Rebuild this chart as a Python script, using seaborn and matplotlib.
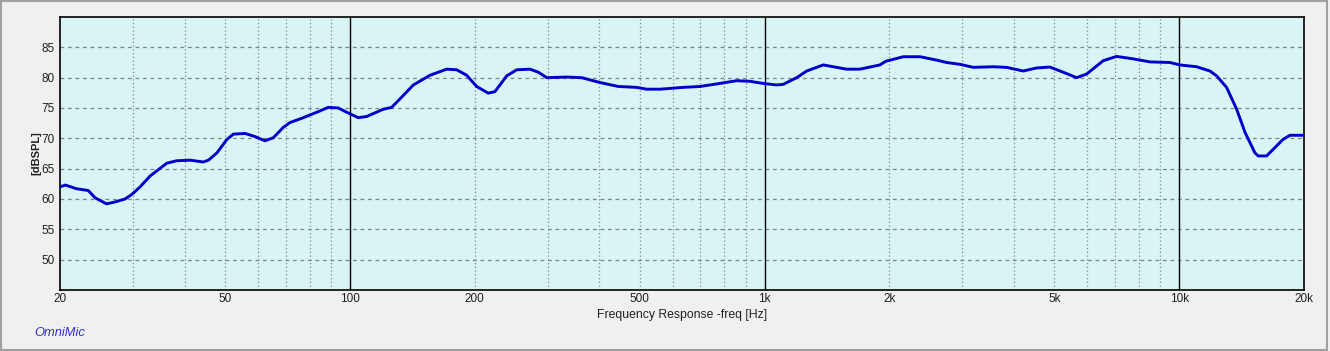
import numpy as np
import pandas as pd
import matplotlib
matplotlib.use("Agg")
import matplotlib.pyplot as plt
import matplotlib.ticker as mticker
from matplotlib.patches import Rectangle
import seaborn as sns

freq_hz = [20.0, 20.6, 21.9, 23.4, 24.3, 25.9, 27.1, 28.7, 29.8, 31.2, 33.0, 36.2, 38.2,
           41.2, 44.3, 45.6, 47.8, 50.5, 52.4, 55.9, 59.0, 62.4, 65.4, 69.1, 71.7, 77.2,
           83.2, 88.7, 93.8, 98.3, 104.8, 109.8, 120.4, 126.1, 132.1, 142.3, 156.1, 171.2,
           181.0, 191.3, 202.2, 215.6, 223.8, 239.0, 252.6, 272.0, 284.8, 298.4, 333.4,
           362.3, 401.0, 443.9, 491.8, 519.9, 559.8, 636.8, 698.8, 780.8, 856.8, 922.5,
           993.0, 1069.6, 1109.7, 1195.6, 1264, 1386, 1465, 1578, 1698, 1898, 1960, 2160,
           2372, 2600, 2750, 2960, 3188, 3562, 3836, 4206, 4532, 4878, 5252, 5658, 5982,
           6560, 7064, 7750, 8502, 9498, 10040, 11016, 11860, 12310, 13012, 13760, 14410,
           15230, 15510, 16250, 17820, 18500, 20000]
spl_db = [62.0, 62.3, 61.7, 61.4, 60.2, 59.2, 59.5, 60.0, 60.75, 62.0, 63.8, 65.9, 66.3,
          66.4, 66.1, 66.4, 67.6, 69.8, 70.7, 70.8, 70.3, 69.6, 70.1, 71.8, 72.6, 73.4,
          74.3, 75.1, 75.0, 74.3, 73.4, 73.6, 74.8, 75.1, 76.5, 78.8, 80.4, 81.4,
          81.3, 80.4, 78.55, 77.45, 77.7, 80.3, 81.3, 81.4, 80.9, 80.0, 80.1,
          80.0, 79.2, 78.55, 78.4, 78.1, 78.1, 78.4, 78.55, 79.05, 79.5, 79.4,
          79.05, 78.8, 78.9, 80.0, 81.1, 82.1, 81.8, 81.4, 81.4, 82.1, 82.7, 83.45,
          83.45, 82.9, 82.5, 82.2, 81.7, 81.8, 81.7, 81.1, 81.6, 81.75, 80.9, 80.0, 80.6,
          82.8, 83.5, 83.1, 82.6, 82.5, 82.1, 81.8, 81.1, 80.3, 78.4, 74.8, 71.0,
          67.6, 67.1, 67.1, 69.85, 70.5, 70.5]

x_tick_values = [20, 50, 100, 200, 500, 1000, 2000, 5000, 10000, 20000]
x_tick_labels = ["20", "50", "100", "200", "500", "1k", "2k", "5k", "10k", "20k"]
y_tick_values = [50, 55, 60, 65, 70, 75, 80, 85]
decade_lines = [100, 1000, 10000]

df = pd.DataFrame({"freq": freq_hz, "spl": spl_db})

sns.set_style("white")
plt.rcParams["font.family"] = ["Liberation Sans", "DejaVu Sans"]

fig = plt.figure(figsize=(13.3, 3.51), dpi=100, facecolor="#f0f0f0")
ax = fig.add_axes([60 / 1330, 1 - 290 / 351, 1244 / 1330, 273 / 351])
ax.set_facecolor("#d8f4f4")

ax.set_xscale("log")
ax.set_xlim(20, 20000)
ax.set_ylim(45, 90)

# minor dotted grid
minor = [m * d for d in (10, 100, 1000, 10000) for m in range(2, 10) if 20 < m * d < 20000]
for m in minor:
    if m in decade_lines:
        continue
    ax.axvline(m, color="#808c8c", lw=0.9, ls=(0, (1, 2)), zorder=1)
for d in decade_lines:
    ax.axvline(d, color="black", lw=1.0, zorder=2)
for yv in y_tick_values:
    ax.axhline(yv, color="#7a8484", lw=0.9, ls=(0, (3, 3)), zorder=1)

sns.lineplot(data=df, x="freq", y="spl", ax=ax, color="#0000c8", lw=2.1, zorder=3)

ax.xaxis.set_major_locator(mticker.FixedLocator(x_tick_values))
ax.xaxis.set_major_formatter(mticker.FixedFormatter(x_tick_labels))
ax.xaxis.set_minor_locator(mticker.NullLocator())
ax.set_yticks(y_tick_values)
ax.set_yticklabels([str(v) for v in y_tick_values])
ax.tick_params(axis="both", length=0, labelsize=8.5, colors="#202020", pad=4)
ax.tick_params(axis="x", pad=2)

ax.set_xlabel("Frequency Response -freq [Hz]", fontsize=8.8, color="#202020", labelpad=3)
ax.set_ylabel("[dBSPL]", fontsize=8, fontweight="bold", color="#202020", labelpad=0)

for s in ax.spines.values():
    s.set_visible(True)
    s.set_color("black")
    s.set_linewidth(1.2)

fig.text(34 / 1330, 1 - 333 / 351, "OmniMic", fontsize=9.3, style="italic",
         color="#3030d0", ha="left", va="center")

fig.patches.append(Rectangle((0.001, 0.003), 0.997, 0.994, transform=fig.transFigure,
                             fill=False, edgecolor="#a0a0a0", lw=1.5))

fig.savefig("out.png", dpi=100, facecolor=fig.get_facecolor())
